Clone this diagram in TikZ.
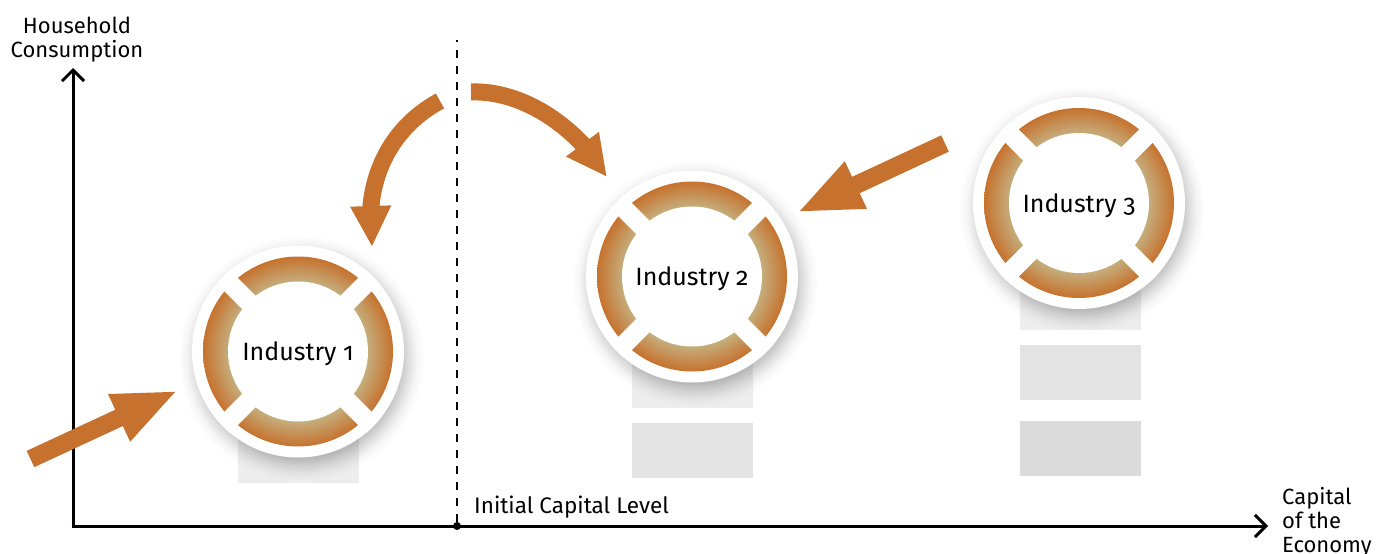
\documentclass[tikz,border=0pt]{standalone}
\usepackage{fontspec}
\setmainfont[Numbers=OldStyle]{Fira Sans}
\usetikzlibrary{arrows.meta, bending, calc, fadings}
\definecolor{ring_orange}{HTML}{C6722E}
\definecolor{ring_tan}{HTML}{C5AD7C}
\pgfdeclareradialshading{ring_shade}{\pgfpointorigin}{color(0bp)=(ring_tan); color(18.4bp)=(ring_tan); color(25bp)=(ring_orange); color(50bp)=(ring_orange)}
\pgfdeclareradialshading{shadow_shade}{\pgfpointorigin}{color(0bp)=(pgftransparent!78); color(20bp)=(pgftransparent!78); color(21.5bp)=(pgftransparent!88); color(23bp)=(pgftransparent!96); color(24.5bp)=(pgftransparent!100); color(50bp)=(pgftransparent!100)}
\pgfdeclarefading{shadow_fade}{\pgfuseshading{shadow_shade}}
\tikzstyle{axis_line}=[line width=3pt, -{Straight Barb[length=11pt,width=22pt,line width=3pt]}]
\tikzstyle{capital_label}=[inner sep=0, align=left, font=\fontsize{22}{24}\selectfont]
\tikzstyle{level_bar}=[rectangle, minimum width=121pt, minimum height=55pt, inner sep=0]
\tikzstyle{ring_shadow}=[circle, minimum size=250pt, inner sep=0, fill=black, path fading=shadow_fade]
\tikzstyle{industry}=[circle, minimum size=212pt, inner sep=0, fill=white,
   text height=23pt, text depth=5pt,
   font=\fontsize{25}{26}\selectfont,
   path picture={
      \coordinate (ring_c) at (path picture bounding box.center);
      \shade[shading=ring_shade] (ring_c) circle (95pt);
      \fill[white] (ring_c) circle (70pt);
      \draw[white, line width=19pt] ($(ring_c)+(-90,-90)$) -- ($(ring_c)+(90,90)$);
      \draw[white, line width=19pt] ($(ring_c)+(-90,90)$) -- ($(ring_c)+(90,-90)$);
   }]

\begin{document}
\begin{tikzpicture}[x=1pt, y=-1pt]
\useasboundingbox (0,0) rectangle (1376,554);

% capital level bars
\node [level_bar, fill=black!7]  (bar_one)         at (298.5,455.5) {};
\node [level_bar, fill=black!7]  (bar_two_top)     at (692.5,380.5) {};
\node [level_bar, fill=black!11] (bar_two_bottom)  at (692.5,450.5) {};
\node [level_bar, fill=black!7]  (bar_three_top)   at (1080.5,302.5) {};
\node [level_bar, fill=black!11] (bar_three_mid)   at (1080.5,372.5) {};
\node [level_bar, fill=black!14] (bar_three_low)   at (1080.5,448.5) {};

% axes
\coordinate (origin) at (73,526);
\coordinate (y_end)  at (73,68);
\coordinate (x_end)  at (1268,526);
\coordinate (dash_end) at (457,40);
\node [circle, fill=black, minimum size=8pt, inner sep=0] (initial_level) at (457,526) {};
\draw [line width=2pt, dash pattern=on 8pt off 8pt] (initial_level) -- (dash_end);
\draw [axis_line] ([yshift=-1.5pt]origin) -- (y_end);
\draw [axis_line] ([xshift=-1.5pt]origin) -- (x_end);

\node [capital_label, align=center] (household) at (77,39.5) {Household\\Consumption};
\node [capital_label, anchor=north west] (capital) at (1282,487.5) {Capital\\of the\\Economy};
\node [capital_label, anchor=west, font=\fontsize{22.5}{24}\selectfont] (initial_label) at (474,507) {Initial Capital Level};

% industries
\node [ring_shadow] (shadow_one)   at (301,358) {};
\node [ring_shadow] (shadow_two)   at (695,283) {};
\node [ring_shadow] (shadow_three) at (1082,209) {};
\node [industry] (industry_one)   at (298,351.5) {Industry 1};
\node [industry] (industry_two)   at (692,276.5) {Industry 2};
\node [industry] (industry_three) at (1079,203)  {Industry 3};

% arrows
\tikzstyle{push_arrow}=[draw=ring_orange, line width=18pt, -{Triangle[length=65pt,width=47pt,fill=ring_orange]}]
\coordinate (one_start)   at (30.5,459);
\coordinate (one_tip)     at (178,390.5);
\coordinate (left_start)  at (440,101);
\coordinate (left_tip)    at (372,247);
\coordinate (right_start) at (471,92);
\coordinate (right_tip)   at (607,177);
\coordinate (three_start) at (945,143.5);
\coordinate (three_tip)   at (797,212.5);
\draw [push_arrow] (one_start) -- (one_tip);
\draw [push_arrow, line width=17pt, -{Triangle[length=41pt,width=38pt]}] (left_start) .. controls (395,125) and (362,175) .. (left_tip);
\draw [push_arrow, line width=17pt, -{Triangle[length=41pt,width=38pt]}] (right_start) .. controls (525,90) and (580,130) .. (right_tip);
\draw [push_arrow] (three_start) -- (three_tip);

\end{tikzpicture}
\end{document}
